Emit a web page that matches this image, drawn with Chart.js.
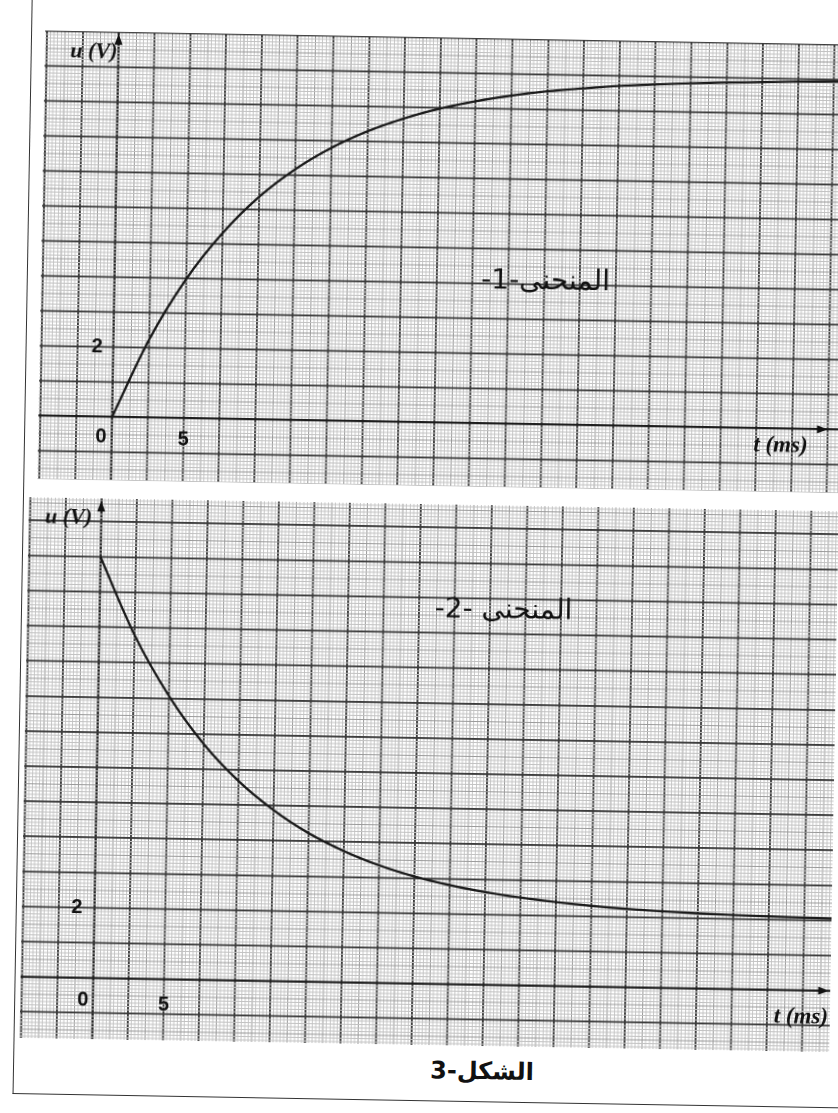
<!DOCTYPE html>
<html>
<head>
<meta charset="utf-8">
<script src="https://cdn.jsdelivr.net/npm/chart.js@4.4.1/dist/chart.umd.min.js"></script>
<style>
  html, body { margin: 0; padding: 0; background: #fff; overflow: hidden; }
  #sheet { position: absolute; left: 0; top: 0; width: 838px; height: 1113px;
           transform: rotate(1deg); transform-origin: 419px 556px; }
  #frame { position: absolute; left: 22px; top: -30px; width: 880px; height: 1130px;
           border-left: 1.5px solid #333; border-bottom: 1.5px solid #333; }
  canvas { position: absolute; }
  #c1 { left: 36px; top: 37px; }
  #c2 { left: 28px; top: 504px; }
  #caption { position: absolute; left: 391px; top: 1056px; width: 200px; text-align: center;
             font: bold 24px "DejaVu Sans"; direction: rtl; color: #111; }
</style>
</head>
<body>
<div id="sheet">
  <div id="frame"></div>
  <canvas id="c1" width="809" height="449"></canvas>
  <canvas id="c2" width="810" height="541"></canvas>
  <div id="caption">الشكل-3</div>
</div>
<script>
// time in ms, voltage in V
const tTop = [0, 2.5, 5, 7.5, 10, 12.5, 15, 17.5, 20, 22.5, 25, 27.5, 30, 32.5, 35, 37.5, 40, 42.5, 45, 47.5, 50, 52];
const uTop = [0, 2.23, 3.97, 5.31, 6.36, 7.17, 7.80, 8.29, 8.67, 8.97, 9.20, 9.38, 9.52, 9.62, 9.71, 9.77, 9.82, 9.86, 9.89, 9.92, 9.94, 9.95];

const tBottom = [0, 2.5, 5, 7.5, 10, 12.5, 15, 17.5, 20, 22.5, 25, 27.5, 30, 32.5, 35, 37.5, 40, 42.5, 45, 47.5, 50, 52];
const uBottom = [12.0, 9.79, 8.07, 6.72, 5.68, 4.87, 4.23, 3.74, 3.35, 3.05, 2.82, 2.64, 2.50, 2.39, 2.30, 2.23, 2.18, 2.14, 2.11, 2.09, 2.07, 2.06];

const xLabels = ['0', '5'];
const yLabel = '2';

function isMult(v, step) {
  const q = v / step;
  return Math.abs(q - Math.round(q)) < 1e-6;
}

// graph paper: fine lines, half lines, heavy lines every square, axis at 0
function paperGrid(major, half) {
  return {
    drawTicks: false,
    color: (c) => {
      const v = c.tick.value;
      if (Math.abs(v) < 1e-9) return '#1e1e1e';
      if (isMult(v, major)) return '#3c3c3c';
      if (isMult(v, half)) return '#9a9a9a';
      return '#c2c2c2';
    },
    lineWidth: (c) => {
      const v = c.tick.value;
      if (Math.abs(v) < 1e-9) return 2.3;
      if (isMult(v, major)) return 1.9;
      if (isMult(v, half)) return 1;
      return 0.9;
    }
  };
}

function arrowHead(ctx, px, py, dir) {
  ctx.beginPath();
  if (dir === 'up') {
    ctx.moveTo(px, py);
    ctx.lineTo(px - 4, py + 11);
    ctx.lineTo(px + 4, py + 11);
  } else {
    ctx.moveTo(px, py);
    ctx.lineTo(px - 11, py - 4);
    ctx.lineTo(px - 11, py + 4);
  }
  ctx.closePath();
  ctx.fill();
}

const paperLabels = {
  id: 'paperLabels',
  afterDatasetsDraw(chart, args, o) {
    const { ctx, scales: { x, y } } = chart;
    const x0 = x.getPixelForValue(0);
    const y0 = y.getPixelForValue(0);
    ctx.save();
    ctx.fillStyle = '#111';

    // axis arrows
    arrowHead(ctx, x0, y.getPixelForValue(o.yTip), 'up');
    arrowHead(ctx, x.getPixelForValue(o.xTip), y0, 'right');

    ctx.textBaseline = 'middle';
    ctx.textAlign = 'right';
    ctx.font = 'italic bold 22px "Liberation Serif"';
    ctx.fillText('u (V)', x0 + o.uDx, y.getPixelForValue(o.uAt));
    ctx.font = 'italic bold 23px "Liberation Serif"';
    ctx.fillText('t (ms)', x.getPixelForValue(o.tAt), y0 + o.tDy);

    ctx.font = 'bold 20px "Liberation Sans"';
    ctx.textAlign = 'center';
    ctx.fillText(yLabel, x0 + o.twoDx, y.getPixelForValue(2));
    ctx.fillText(xLabels[0], x0 + o.zeroDx, y0 + o.zeroDy);
    ctx.fillText(xLabels[1], x.getPixelForValue(5), y0 + o.fiveDy);

    ctx.font = '28px "DejaVu Sans"';
    ctx.direction = 'rtl';
    ctx.textAlign = 'right';
    ctx.fillText(o.name, x.getPixelForValue(o.nameAt[0]), y.getPixelForValue(o.nameAt[1]));
    ctx.restore();
  }
};

function makeChart(id, ts, us, xr, yr, labels) {
  return new Chart(document.getElementById(id), {
    type: 'scatter',
    data: {
      datasets: [{
        data: ts.map((t, i) => ({ x: t, y: us[i] })),
        showLine: true,
        borderColor: '#1a1a1a',
        borderWidth: 2.3,
        pointRadius: 0,
        cubicInterpolationMode: 'monotone'
      }]
    },
    options: {
      responsive: false,
      animation: false,
      devicePixelRatio: 2,
      layout: { padding: 0 },
      plugins: {
        legend: { display: false },
        tooltip: { enabled: false },
        paperLabels: labels
      },
      scales: {
        x: {
          type: 'linear', min: xr[0], max: xr[1],
          ticks: { display: false, stepSize: 0.25, autoSkip: false, includeBounds: false },
          grid: paperGrid(2.5, 1.25),
          border: { display: false }
        },
        y: {
          type: 'linear', min: yr[0], max: yr[1],
          ticks: { display: false, stepSize: 0.1, autoSkip: false, includeBounds: false },
          grid: paperGrid(1, 0.5),
          border: { display: false }
        }
      }
    },
    plugins: [paperLabels]
  });
}

makeChart('c1', tTop, uTop, [-5.14, 51.35], [-1.817, 11.01], {
  yTip: 10.95, xTip: 50.0,
  uAt: 10.42, uDx: -1,
  tAt: 48.6, tDy: 17.4,
  twoDx: -16, zeroDx: -10.7, zeroDy: 20, fiveDy: 21.7,
  name: 'المنحنى-1-', nameAt: [34.6, 4.08]
});

makeChart('c2', tBottom, uBottom, [-5.10, 51.94], [-1.75, 13.66], {
  yTip: 13.6, xTip: 51.85,
  uAt: 13.09, uDx: -9,
  tAt: 51.8, tDy: 26.8,
  twoDx: -17.3, zeroDx: -9.7, zeroDy: 22.3, fiveDy: 25.8,
  name: 'المنحنى -2-', nameAt: [33.3, 10.66]
});
</script>
</body>
</html>
